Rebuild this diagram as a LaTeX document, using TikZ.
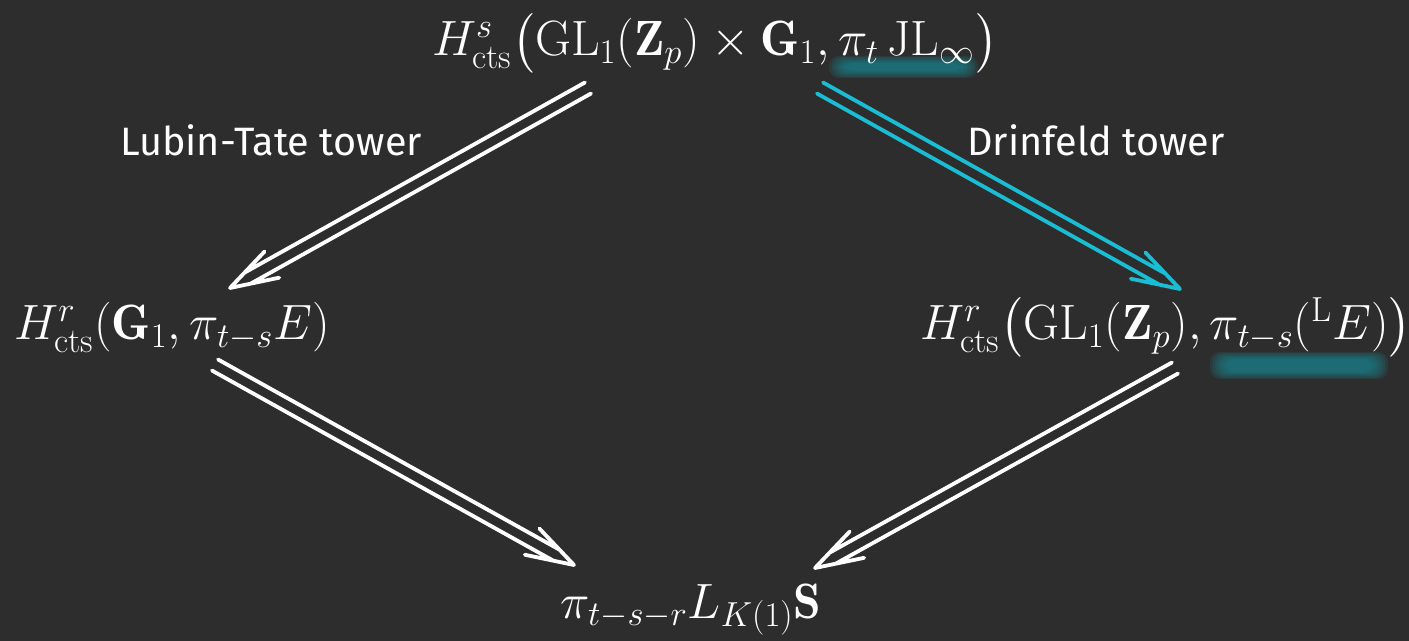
\documentclass[tikz,border=0pt]{standalone}
\usepackage{fix-cm}
\usepackage{amsmath}
\usepackage{fontspec}
\newfontfamily\labelfont{Fira Sans}
\usetikzlibrary{calc}
\definecolor{bg}{RGB}{46,45,45}
\definecolor{cyanarrow}{RGB}{26,190,212}
\definecolor{smudge}{RGB}{24,135,148}
\def\dgap{3.15pt}\def\dback{10pt}\def\hlen{24pt}\def\hwid{7.5pt}
\tikzset{
 dbl/.style={draw=#1, line width=1.9pt, line cap=round, line join=round,
  to path={
   ($(\tikztostart)!\dgap!90:(\tikztotarget)$) -- ($(\tikztotarget)!\dback!(\tikztostart)!\dgap!-90:(\tikztostart)$)
   ($(\tikztostart)!\dgap!-90:(\tikztotarget)$) -- ($(\tikztotarget)!\dback!(\tikztostart)!\dgap!90:(\tikztostart)$)
   ($(\tikztotarget)!\hlen!(\tikztostart)!\hwid!90:(\tikztostart)$) -- (\tikztotarget) -- ($(\tikztotarget)!\hlen!(\tikztostart)!\hwid!-90:(\tikztostart)$)
  }},
 dbl/.default=white,
 mathnode/.style={text=white, font=\fontsize{24.8}{29}\selectfont, inner sep=0pt, anchor=base},
 lab/.style={text=white, font=\labelfont\fontsize{19.8}{23}\selectfont, inner sep=0pt},
}
\newcommand\drawsmudge[4]{%
  \foreach \i in {0,...,6}{\fill[smudge, opacity=0.16, rounded corners=5pt] ({#1+\i*2.5},{#2+\i*1.2}) rectangle ({#3-\i*2.5},{#4-\i*1.2});}}
\begin{document}
\begin{tikzpicture}[x=0.5pt,y=-0.5pt]
\fill[bg] (0,0) rectangle (1409,641);
\useasboundingbox (0,0) rectangle (1409,641);
\drawsmudge{829}{56}{978}{78}
\drawsmudge{1210}{352}{1388}{379}
\node[mathnode] (top) at (715,56) {$H^s_{\mathrm{cts}}\bigl(\mathrm{GL}_1(\mathbf{Z}_p)\times\mathbf{G}_1, \pi_t\,\mathrm{JL}_\infty\bigr)$};
\node[mathnode] (left) at (172,340) {$H^r_{\mathrm{cts}}(\mathbf{G}_1, \pi_{t-s}E)$};
\node[mathnode] (right) at (1166,340) {$H^r_{\mathrm{cts}}\bigl(\mathrm{GL}_1(\mathbf{Z}_p), \pi_{t-s}({}^{\mathrm{L}}E)\bigr)$};
\node[mathnode] (bottom) at (691,618) {$\pi_{t-s-r}L_{K(1)}\mathbf{S}$};
\node[lab] (lt) at (271,140) {Lubin-Tate tower};
\node[lab] (dr) at (1096,140) {Drinfeld tower};
\coordinate (a1s) at ($(top.base)+(-127,32)$);
\coordinate (a1e) at ($(left.base)+(58,-52)$);
\coordinate (a2s) at ($(top.base)+(105,32)$);
\coordinate (a2e) at ($(right.base)+(14,-51)$);
\coordinate (a3s) at ($(left.base)+(43,25)$);
\coordinate (a3e) at ($(bottom.base)+(-117,-53)$);
\coordinate (a4s) at ($(right.base)+(9,28)$);
\coordinate (a4e) at ($(bottom.base)+(124,-50)$);
\draw[dbl] (a1s) to (a1e);
\draw[dbl=cyanarrow] (a2s) to (a2e);
\draw[dbl] (a3s) to (a3e);
\draw[dbl] (a4s) to (a4e);
\end{tikzpicture}
\end{document}
